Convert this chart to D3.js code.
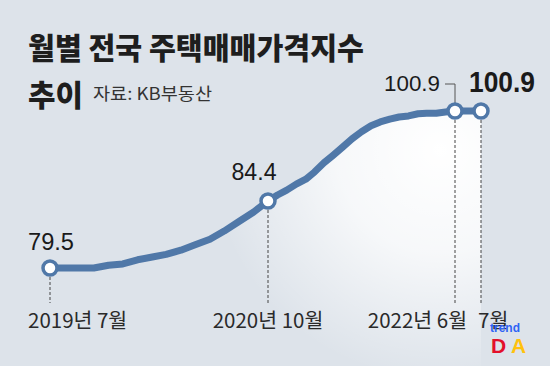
<!DOCTYPE html>
<html>
<head>
<meta charset="utf-8">
<script src="https://cdn.jsdelivr.net/npm/d3@7"></script>
<style>
  html, body { margin: 0; padding: 0; background: #dde3ea; }
  svg { display: block; }
  text { font-family: "Liberation Sans", Arial, sans-serif; }
  .ko { font-family: "Noto Sans CJK KR", "Noto Sans", sans-serif; }
</style>
</head>
<body>
<svg id="chart"></svg>
<script>
// 월별 전국 주택매매가격지수 (KB부동산), 2019.7 ~ 2022.7
const months = [
  '2019-07', '2019-08', '2019-09', '2019-10', '2019-11', '2019-12',
  '2020-01', '2020-02', '2020-03', '2020-04', '2020-05', '2020-06',
  '2020-07', '2020-08', '2020-09', '2020-10', '2020-11', '2020-12',
  '2021-01', '2021-02', '2021-03', '2021-04', '2021-05', '2021-06',
  '2021-07', '2021-08', '2021-09', '2021-10', '2021-11', '2021-12',
  '2022-01', '2022-02', '2022-03', '2022-04', '2022-05', '2022-06',
  '2022-07'
];
const values = [
  79.5, 79.5, 79.5, 79.5, 79.7, 79.8,
  80.1, 80.3, 80.5, 80.8, 81.2, 81.6,
  82.2, 82.9, 83.6, 84.4, 85.5, 86.4,
  87.5, 88.4, 89.7, 91.4, 92.8, 94.3,
  95.8, 97.1, 98.2, 98.9, 99.4, 99.8,
  100.0, 100.4, 100.5, 100.5, 100.7, 100.9,
  100.9
];
// 강조 지점과 x축 라벨
const markedMonths = ['2019-07', '2020-10', '2022-06', '2022-07'];
const tickLabels = ['2019년 7월', '2020년 10월', '2022년 6월', '7월'];

const width = 550, height = 366;
const parse = d3.timeParse('%Y-%m');
const data = months.map((m, i) => ({ date: parse(m), value: values[i] }));

const svg = d3.select('#chart').attr('width', width).attr('height', height);

// 원본 그래픽은 구간마다 축척이 달라서 다중 구간 스케일 사용
const x = d3.scaleTime()
  .domain(markedMonths.map(parse))
  .range([50, 268, 455, 481]);
const y = d3.scaleLinear()
  .domain([79.5, 84.4, 100.9])
  .range([268, 201, 111]);

// 배경
svg.append('rect').attr('width', width).attr('height', height).attr('fill', '#dde3ea');

const defs = svg.append('defs');
const glow = defs.append('radialGradient')
  .attr('id', 'glow')
  .attr('gradientUnits', 'userSpaceOnUse')
  .attr('cx', 440).attr('cy', 150).attr('r', 230);
glow.append('stop').attr('offset', '0%').attr('stop-color', '#ffffff').attr('stop-opacity', 1);
glow.append('stop').attr('offset', '45%').attr('stop-color', '#ffffff').attr('stop-opacity', 0.75);
glow.append('stop').attr('offset', '100%').attr('stop-color', '#ffffff').attr('stop-opacity', 0);

// 선 아래의 흰 광채
const area = d3.area()
  .x(d => x(d.date))
  .y0(height)
  .y1(d => y(d.value));
svg.append('path')
  .datum(data)
  .attr('d', area)
  .attr('fill', 'url(#glow)');

// 제목
svg.append('text')
  .attr('class', 'ko title')
  .attr('x', 28).attr('y', 59)
  .attr('font-size', 30).attr('font-weight', 900)
  .attr('fill', '#1e1e1e')
  .attr('textLength', 336).attr('lengthAdjust', 'spacingAndGlyphs')
  .text('월별 전국 주택매매가격지수');
svg.append('text')
  .attr('class', 'ko')
  .attr('x', 28).attr('y', 106)
  .attr('font-size', 30).attr('font-weight', 900)
  .attr('fill', '#1e1e1e')
  .attr('textLength', 55).attr('lengthAdjust', 'spacingAndGlyphs')
  .text('추이');
svg.append('text')
  .attr('class', 'ko')
  .attr('x', 93).attr('y', 100)
  .attr('font-size', 17)
  .attr('fill', '#333')
  .attr('textLength', 119).attr('lengthAdjust', 'spacingAndGlyphs')
  .text('자료: KB부동산');

const marked = data.filter(d => markedMonths.includes(d3.timeFormat('%Y-%m')(d.date)));

// 점선
svg.append('g')
  .selectAll('line')
  .data(marked)
  .join('line')
  .attr('x1', d => x(d.date)).attr('x2', d => x(d.date))
  .attr('y1', d => y(d.value) + 9)
  .attr('y2', 303)
  .attr('stroke', '#444')
  .attr('stroke-width', 1)
  .attr('stroke-dasharray', '3,2');

// 선
const line = d3.line()
  .x(d => x(d.date))
  .y(d => y(d.value));
svg.append('path')
  .datum(data)
  .attr('d', line)
  .attr('fill', 'none')
  .attr('stroke', '#5078a8')
  .attr('stroke-width', 7)
  .attr('stroke-linejoin', 'round')
  .attr('stroke-linecap', 'round');

// 2022년 6월 라벨 연결선
const june = marked[2];
svg.append('path')
  .attr('d', `M${x(june.date) - 10},84H${x(june.date)}V${y(june.value) - 8}`)
  .attr('fill', 'none')
  .attr('stroke', '#555')
  .attr('stroke-width', 1);

// 점
svg.append('g')
  .selectAll('circle')
  .data(marked)
  .join('circle')
  .attr('cx', d => x(d.date))
  .attr('cy', d => y(d.value))
  .attr('r', 7)
  .attr('fill', '#fff')
  .attr('stroke', '#5078a8')
  .attr('stroke-width', 3.5);

// 값 라벨
const fmt = d3.format('.1f');
const valueLabels = [
  { d: marked[0], x: 28, y: 250, anchor: 'start', size: 23, weight: 400, w: 46 },
  { d: marked[1], x: x(marked[1].date) - 14, y: 180, anchor: 'middle', size: 23, weight: 400, w: 45 },
  { d: marked[2], x: 440, y: 91, anchor: 'end', size: 22, weight: 400, w: 56 },
  { d: marked[3], x: 469, y: 92, anchor: 'start', size: 30, weight: 700, w: 66 }
];
svg.append('g')
  .selectAll('text')
  .data(valueLabels)
  .join('text')
  .attr('x', d => d.x).attr('y', d => d.y)
  .attr('text-anchor', d => d.anchor)
  .attr('font-size', d => d.size)
  .attr('font-weight', d => d.weight)
  .attr('fill', '#1a1a1a')
  .attr('textLength', d => d.w)
  .attr('lengthAdjust', 'spacingAndGlyphs')
  .text(d => fmt(d.d.value));

// x축 라벨
const tickPos = [
  { x: 28, anchor: 'start' },
  { x: x(marked[1].date), anchor: 'middle' },
  { x: 467, anchor: 'end' },
  { x: 478, anchor: 'start' }
];
svg.append('g')
  .selectAll('text')
  .data(tickLabels)
  .join('text')
  .attr('class', 'ko')
  .attr('x', (d, i) => tickPos[i].x)
  .attr('y', 328)
  .attr('text-anchor', (d, i) => tickPos[i].anchor)
  .attr('font-size', 20.5)
  .attr('fill', '#2a2a2a')
  .text(d => d);

// 워터마크
svg.append('text')
  .attr('x', 490).attr('y', 332)
  .attr('font-size', 12).attr('font-weight', 700)
  .attr('fill', '#2f63f5')
  .text('trend');
svg.append('text')
  .attr('x', 491).attr('y', 353)
  .attr('font-size', 21).attr('font-weight', 700)
  .attr('fill', '#e3102b')
  .text('D');
svg.append('text')
  .attr('x', 511).attr('y', 353)
  .attr('font-size', 21).attr('font-weight', 700)
  .attr('fill', '#ffc20e')
  .text('A');
</script>
</body>
</html>
